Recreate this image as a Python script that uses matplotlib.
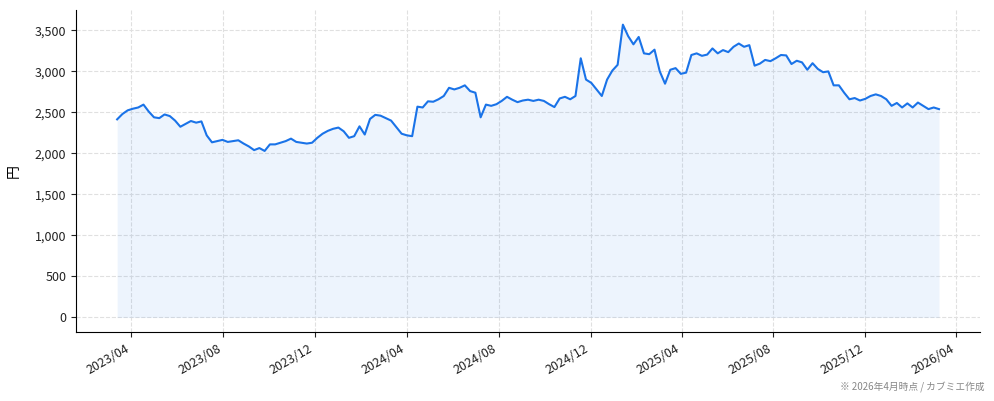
import numpy as np
import pandas as pd
import matplotlib
matplotlib.use("Agg")
import matplotlib.pyplot as plt
import matplotlib.dates as mdates
from matplotlib.ticker import FuncFormatter

plt.rcParams['font.family'] = ['Noto Sans CJK JP', 'DejaVu Sans']

# weekly closing prices (yen)
start_date = "2023-03-13"
prices = [
    2415, 2480, 2525, 2545, 2560, 2595, 2510, 2440, 2430, 2475,
    2455, 2400, 2325, 2360, 2395, 2375, 2390, 2220, 2135, 2150,
    2165, 2140, 2150, 2160, 2120, 2085, 2040, 2065, 2030, 2110,
    2110, 2130, 2150, 2180, 2140, 2130, 2120, 2130, 2190, 2240,
    2275, 2300, 2315, 2270, 2190, 2210, 2330, 2230, 2420, 2470,
    2460, 2430, 2400, 2320, 2240, 2220, 2210, 2570, 2560, 2635,
    2630, 2660, 2700, 2800, 2780, 2800, 2830, 2760, 2740, 2440,
    2595, 2580, 2600, 2640, 2690, 2655, 2625, 2645, 2655, 2640,
    2655, 2640, 2600, 2565, 2670, 2690, 2660, 2700, 3160, 2900,
    2860, 2780, 2700, 2900, 3010, 3080, 3570, 3430, 3330, 3420,
    3220, 3210, 3265, 3000, 2850, 3020, 3040, 2970, 2985, 3200,
    3220, 3190, 3205, 3280, 3220, 3260, 3235, 3300, 3340, 3300,
    3320, 3070, 3095, 3140, 3125, 3160, 3200, 3195, 3090, 3130,
    3110, 3020, 3100, 3030, 2990, 3000, 2830, 2830, 2740, 2660,
    2675, 2645, 2665, 2700, 2720, 2700, 2660, 2580, 2615, 2560,
    2610, 2560, 2620, 2580, 2540, 2560, 2540,
]
dates = pd.date_range(start_date, periods=len(prices), freq="7D")

line_color = "#1a73e8"

fig = plt.figure(figsize=(9.94, 4.01), dpi=100)
ax = fig.add_axes([0.0765, 0.172, 0.9095, 0.803])

ax.plot(dates, prices, color=line_color, linewidth=1.5)
ax.fill_between(dates, prices, 0, color=line_color, alpha=0.08, linewidth=0)

ax.xaxis.set_major_locator(mdates.MonthLocator(bymonth=[4, 8, 12]))
ax.xaxis.set_major_formatter(mdates.DateFormatter("%Y/%m"))
ax.set_yticks(np.arange(0, 3501, 500))
ax.yaxis.set_major_formatter(FuncFormatter(lambda v, p: f"{int(v):,}"))

for lbl in ax.get_xticklabels():
    lbl.set_rotation(30)
    lbl.set_ha("right")
ax.tick_params(labelsize=9, colors="#222222")

ax.grid(True, linestyle="--", color="#e0e0e0", linewidth=0.8)
ax.set_axisbelow(True)
for s in ("top", "right"):
    ax.spines[s].set_visible(False)

ax.set_ylabel("円", fontsize=10, labelpad=10)

fig.text(0.991, 0.035, "※ 2026年4月時点 / カブミエ作成", ha="right", va="center",
         fontsize=7, color="#888888")

fig.savefig("out.png", dpi=100)
